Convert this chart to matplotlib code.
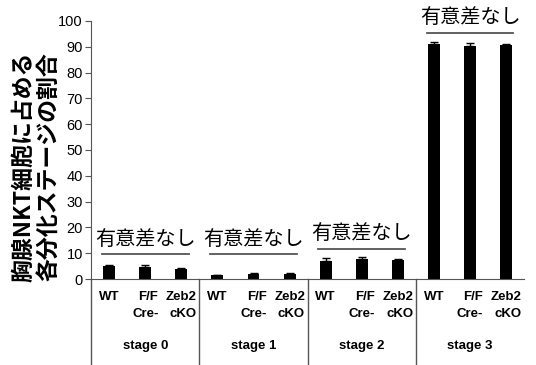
import matplotlib
matplotlib.use("Agg")
from matplotlib import pyplot as plt
from matplotlib import transforms
import numpy as np

plt.rcParams['font.family'] = ['Liberation Sans', 'Noto Sans CJK JP', 'DejaVu Sans']

stages = ['stage 0', 'stage 1', 'stage 2', 'stage 3']
genotypes = ['WT', 'F/F\nCre-', 'Zeb2\ncKO']
values = [5.2, 4.8, 4.0,
          1.5, 2.0, 2.1,
          7.0, 7.7, 7.3,
          91.2, 90.3, 90.5]
errors = [0.4, 0.7, 0.4,
          0.2, 0.2, 0.3,
          1.0, 1.0, 0.4,
          0.8, 1.2, 0.6]
note = '有意差なし'
ylabel = '胸腺NKT細胞に占める\n各分化ステージの割合'

fig = plt.figure(figsize=(5.36, 3.65), dpi=100)
ax = fig.add_axes([0.170, 0.2356, 0.808, 0.7069])

x = np.arange(len(values))
ax.bar(x, values, width=0.33, color='black', zorder=2)
ax.errorbar(x, values, yerr=[np.zeros(len(errors)), errors], fmt='none',
            ecolor='black', elinewidth=1, capsize=3, capthick=1, zorder=3)

ax.set_xlim(-0.5, len(values) - 0.5)
ax.set_ylim(0, 100)
ax.set_yticks(np.arange(0, 101, 10))
ax.tick_params(axis='y', direction='out', length=4, labelsize=10.5, pad=2,
               color='#555555')
ax.set_xticks([])
for s in ['top', 'right']:
    ax.spines[s].set_visible(False)
ax.spines['left'].set_color('#555555')
ax.spines['bottom'].set_color('#555555')

ax.set_ylabel(ylabel, fontsize=16.5, fontweight='bold', linespacing=1.1,
              family=['Noto Sans CJK JP', 'DejaVu Sans'])
ax.yaxis.set_label_coords(-0.072, 0.435)

trans = transforms.blended_transform_factory(ax.transData, ax.transAxes)

# category labels and separators under the axis
for i, v in enumerate(values):
    ax.text(i, -0.047, genotypes[i % 3], transform=trans, ha='center',
            multialignment='right', va='top', fontsize=9.5,
            fontweight='bold', linespacing=1.5)
for g, st in enumerate(stages):
    ax.text(g * 3 + 1, -0.26, st, transform=trans, ha='center', va='center',
            fontsize=9.5, fontweight='bold')
    if g > 0:
        ax.plot([g * 3 - 0.5, g * 3 - 0.5], [0, -0.33], transform=trans,
                color='#555555', lw=1, clip_on=False)
ax.plot([-0.5, -0.5], [0, -0.33], transform=trans, color='#555555', lw=1, clip_on=False)

# 有意差なし annotations
for g in range(4):
    top = max(values[g * 3:g * 3 + 3]) + max(errors[g * 3:g * 3 + 3])
    ly = max(top + 3.0, 9.5)
    ax.plot([g * 3 - 0.2, g * 3 + 2.2], [ly, ly], color='#555555', lw=1.3, clip_on=False)
    ax.text(g * 3 + 1, ly + 1.7, note, ha='center', va='bottom', fontsize=14.5,
            family=['Noto Sans CJK JP', 'DejaVu Sans'], clip_on=False)

plt.savefig('out.png', dpi=100)
